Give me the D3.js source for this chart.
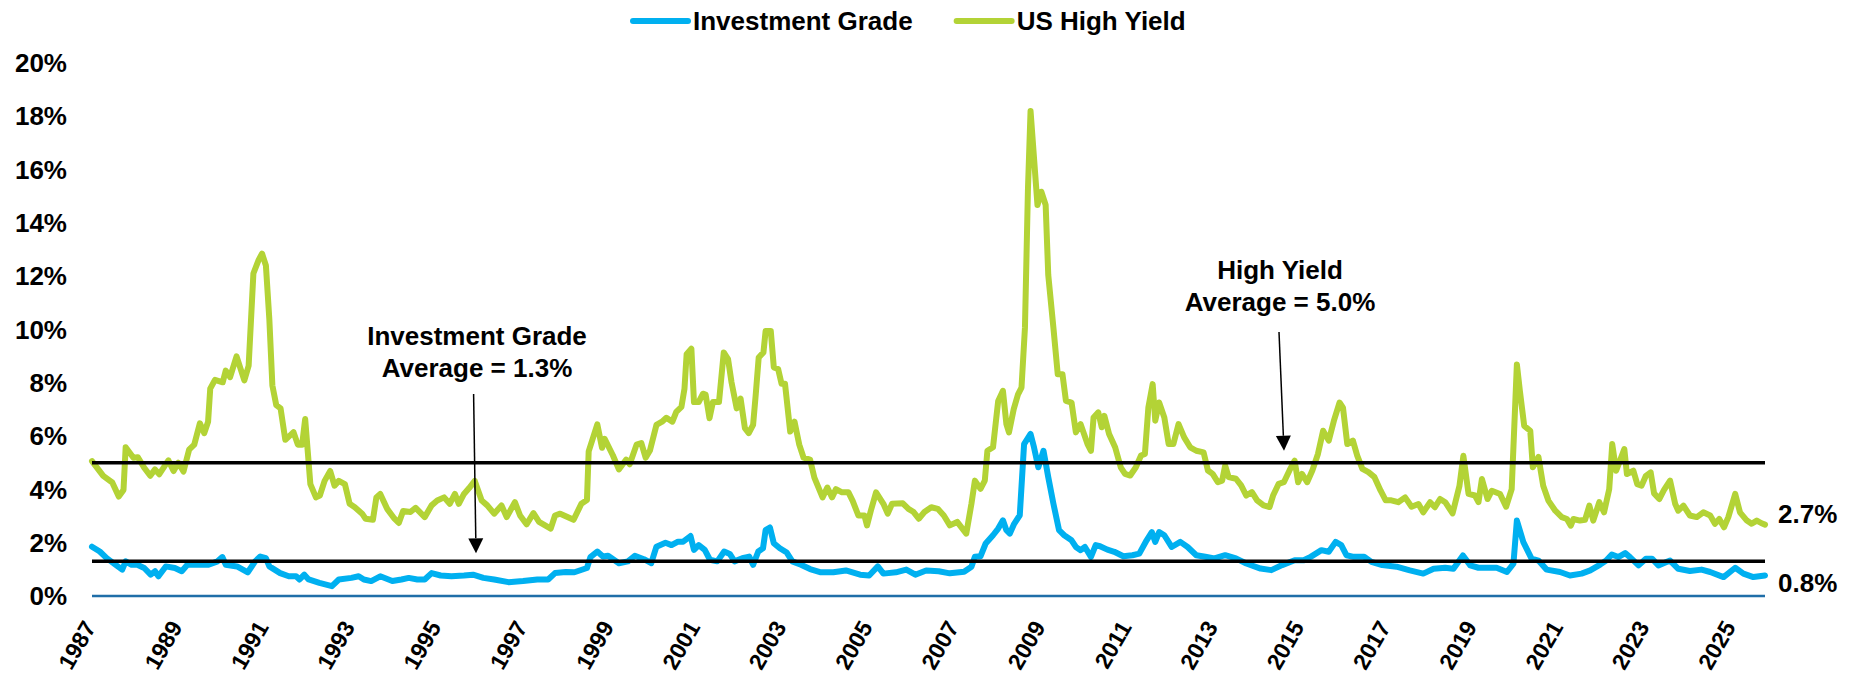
<!DOCTYPE html>
<html>
<head>
<meta charset="utf-8">
<script src="https://cdn.jsdelivr.net/npm/d3@7"></script>
<style>
  body { margin: 0; background: #fff; }
  svg text { font-family: "Liberation Sans", Arial, sans-serif; font-weight: bold; fill: #000; }
</style>
</head>
<body>
<svg id="chart" width="1858" height="673"></svg>
<script>
// Spreads in %, keyed by decimal year
const yearLabels = [1987, 1989, 1991, 1993, 1995, 1997, 1999, 2001, 2003, 2005, 2007,
  2009, 2011, 2013, 2015, 2017, 2019, 2021, 2023, 2025];
const yTicks = [0, 2, 4, 6, 8, 10, 12, 14, 16, 18, 20];
const seriesNames = ['Investment Grade', 'US High Yield'];
const seriesColors = ['#00b0f0', '#b3d336'];
const igAverage = 1.3;
const hyAverage = 5.0;

const igSpread = [
  [1987.18,1.85],[1987.36,1.67],[1987.52,1.42],[1987.73,1.17],[1987.88,0.99],[1987.96,1.3],
  [1988.10,1.17],[1988.23,1.17],[1988.39,1.05],[1988.54,0.8],[1988.64,0.93],[1988.72,0.74],
  [1988.89,1.11],[1989.10,1.05],[1989.26,0.93],[1989.39,1.17],[1989.63,1.17],[1989.88,1.17],
  [1990.09,1.3],[1990.20,1.46],[1990.28,1.17],[1990.54,1.11],[1990.79,0.89],[1990.96,1.3],
  [1991.08,1.48],[1991.21,1.42],[1991.29,1.11],[1991.54,0.86],[1991.74,0.74],[1991.91,0.74],
  [1991.99,0.62],[1992.10,0.8],[1992.20,0.62],[1992.45,0.49],[1992.74,0.37],[1992.90,0.62],
  [1993.19,0.68],[1993.36,0.74],[1993.48,0.62],[1993.65,0.56],[1993.86,0.74],[1994.14,0.56],
  [1994.35,0.62],[1994.52,0.68],[1994.72,0.62],[1994.89,0.62],[1995.05,0.86],[1995.26,0.77],
  [1995.51,0.74],[1995.80,0.77],[1996.01,0.8],[1996.25,0.68],[1996.50,0.62],[1996.83,0.52],
  [1997.17,0.56],[1997.50,0.62],[1997.75,0.62],[1997.91,0.86],[1998.16,0.9],[1998.36,0.89],
  [1998.65,1.05],[1998.73,1.46],[1998.89,1.67],[1999.02,1.48],[1999.14,1.51],[1999.39,1.23],
  [1999.60,1.3],[1999.76,1.51],[1999.97,1.38],[2000.14,1.23],[2000.26,1.85],[2000.47,2.0],
  [2000.61,1.91],[2000.76,2.04],[2000.88,2.04],[2001.05,2.25],[2001.13,1.73],[2001.24,1.91],
  [2001.38,1.73],[2001.50,1.36],[2001.67,1.3],[2001.83,1.67],[2001.96,1.58],[2002.07,1.3],
  [2002.25,1.42],[2002.41,1.48],[2002.50,1.17],[2002.62,1.67],[2002.73,1.79],[2002.79,2.47],
  [2002.89,2.57],[2002.98,1.98],[2003.12,1.79],[2003.28,1.63],[2003.41,1.3],[2003.61,1.17],
  [2003.82,1.01],[2004.07,0.89],[2004.36,0.89],[2004.65,0.96],[2004.98,0.8],[2005.19,0.77],
  [2005.39,1.11],[2005.52,0.84],[2005.81,0.89],[2006.05,0.99],[2006.26,0.8],[2006.51,0.96],
  [2006.80,0.93],[2007.06,0.85],[2007.39,0.91],[2007.56,1.1],[2007.64,1.47],[2007.77,1.49],
  [2007.89,1.97],[2008.06,2.28],[2008.18,2.53],[2008.29,2.84],[2008.37,2.47],[2008.45,2.34],
  [2008.55,2.71],[2008.68,3.03],[2008.78,5.7],[2008.93,6.08],[2009.01,5.58],[2009.11,4.83],
  [2009.23,5.45],[2009.34,4.46],[2009.46,3.46],[2009.59,2.47],[2009.71,2.28],[2009.88,2.09],
  [2009.98,1.84],[2010.09,1.72],[2010.19,1.84],[2010.33,1.47],[2010.44,1.91],[2010.54,1.87],
  [2010.71,1.74],[2010.87,1.66],[2011.08,1.49],[2011.29,1.53],[2011.45,1.59],[2011.62,2.09],
  [2011.74,2.4],[2011.82,2.03],[2011.91,2.4],[2012.03,2.28],[2012.20,1.84],[2012.40,2.03],
  [2012.57,1.84],[2012.77,1.53],[2012.98,1.47],[2013.19,1.41],[2013.44,1.53],[2013.69,1.41],
  [2013.93,1.22],[2014.26,1.03],[2014.51,0.97],[2014.76,1.16],[2015.05,1.34],[2015.26,1.34],
  [2015.42,1.47],[2015.67,1.72],[2015.84,1.66],[2016.00,2.03],[2016.13,1.91],[2016.25,1.53],
  [2016.42,1.47],[2016.66,1.47],[2016.83,1.28],[2017.08,1.16],[2017.41,1.1],[2017.72,0.96],
  [2018.03,0.84],[2018.27,1.02],[2018.54,1.06],[2018.73,1.02],[2018.95,1.52],[2019.12,1.15],
  [2019.31,1.06],[2019.52,1.06],[2019.73,1.06],[2019.97,0.9],[2020.12,1.21],[2020.20,2.83],
  [2020.35,2.02],[2020.54,1.4],[2020.70,1.33],[2020.89,0.99],[2021.20,0.9],[2021.43,0.77],
  [2021.70,0.84],[2021.90,0.96],[2022.13,1.18],[2022.27,1.33],[2022.40,1.56],[2022.55,1.46],
  [2022.71,1.61],[2022.82,1.46],[2023.02,1.15],[2023.19,1.4],[2023.33,1.4],[2023.48,1.15],
  [2023.75,1.33],[2023.94,1.02],[2024.21,0.94],[2024.48,0.99],[2024.68,0.9],[2024.99,0.71],
  [2025.26,1.06],[2025.45,0.84],[2025.68,0.71],[2025.95,0.77]
];

const hySpread = [
  [1987.18,5.06],[1987.44,4.51],[1987.65,4.26],[1987.80,3.73],[1987.91,3.98],[1987.96,5.58],
  [1988.14,5.19],[1988.24,5.21],[1988.39,4.81],[1988.53,4.51],[1988.64,4.75],[1988.74,4.57],
  [1988.95,5.09],[1989.07,4.69],[1989.18,5.0],[1989.30,4.67],[1989.43,5.49],[1989.55,5.68],
  [1989.68,6.48],[1989.78,6.11],[1989.87,6.54],[1989.92,7.78],[1990.03,8.11],[1990.21,8.02],
  [1990.28,8.46],[1990.38,8.21],[1990.53,8.99],[1990.71,8.09],[1990.81,8.64],[1990.92,12.1],
  [1991.04,12.6],[1991.12,12.85],[1991.21,12.4],[1991.29,10.37],[1991.36,7.9],[1991.45,7.16],
  [1991.55,7.04],[1991.66,5.86],[1991.85,6.15],[1991.95,5.68],[1992.05,5.68],[1992.12,6.64],
  [1992.24,4.2],[1992.37,3.7],[1992.46,3.77],[1992.57,4.32],[1992.70,4.69],[1992.80,4.14],
  [1992.90,4.32],[1993.04,4.2],[1993.15,3.46],[1993.27,3.33],[1993.44,3.09],[1993.52,2.9],
  [1993.69,2.86],[1993.77,3.7],[1993.86,3.83],[1994.02,3.27],[1994.19,2.9],[1994.29,2.74],
  [1994.39,3.19],[1994.56,3.15],[1994.68,3.31],[1994.89,2.96],[1995.05,3.4],[1995.18,3.58],
  [1995.34,3.7],[1995.47,3.46],[1995.59,3.83],[1995.68,3.46],[1995.80,3.83],[1995.92,4.05],
  [1996.05,4.32],[1996.21,3.58],[1996.34,3.4],[1996.50,3.09],[1996.67,3.4],[1996.79,2.96],
  [1996.98,3.52],[1997.10,3.02],[1997.25,2.69],[1997.41,3.11],[1997.54,2.78],[1997.81,2.53],
  [1997.91,3.02],[1998.03,3.09],[1998.34,2.86],[1998.52,3.46],[1998.65,3.6],[1998.69,5.43],
  [1998.89,6.44],[1999.00,5.56],[1999.06,5.9],[1999.25,5.28],[1999.39,4.75],[1999.56,5.12],
  [1999.64,4.94],[1999.80,5.68],[1999.91,5.74],[2000.01,5.19],[2000.11,5.46],[2000.26,6.42],
  [2000.39,6.54],[2000.49,6.69],[2000.63,6.54],[2000.72,6.91],[2000.84,7.1],[2000.91,7.78],
  [2000.96,9.07],[2001.07,9.28],[2001.13,7.28],[2001.24,7.28],[2001.34,7.59],[2001.40,7.56],
  [2001.49,6.67],[2001.57,7.28],[2001.71,7.28],[2001.82,9.14],[2001.92,8.89],[2002.00,8.02],
  [2002.12,7.04],[2002.21,7.41],[2002.31,6.3],[2002.40,6.11],[2002.50,6.42],[2002.56,7.53],
  [2002.63,8.95],[2002.74,9.14],[2002.79,9.94],[2002.91,9.94],[2002.98,8.58],[2003.08,8.52],
  [2003.16,7.96],[2003.24,7.96],[2003.36,6.17],[2003.46,6.54],[2003.57,5.68],[2003.67,5.19],
  [2003.82,5.12],[2003.92,4.44],[2004.11,3.7],[2004.22,4.07],[2004.33,3.7],[2004.42,4.01],
  [2004.56,3.89],[2004.71,3.89],[2004.81,3.56],[2004.94,3.02],[2005.08,3.02],[2005.14,2.65],
  [2005.23,3.21],[2005.35,3.89],[2005.52,3.46],[2005.62,3.09],[2005.72,3.46],[2005.97,3.48],
  [2006.10,3.27],[2006.22,3.15],[2006.34,2.9],[2006.47,3.15],[2006.63,3.33],[2006.78,3.27],
  [2006.92,3.02],[2007.06,2.65],[2007.23,2.78],[2007.44,2.34],[2007.56,3.46],[2007.64,4.33],
  [2007.77,4.02],[2007.87,4.33],[2007.93,5.45],[2008.06,5.58],[2008.18,7.32],[2008.29,7.7],
  [2008.37,6.45],[2008.43,6.14],[2008.54,7.01],[2008.64,7.57],[2008.72,7.82],[2008.80,10.06],
  [2008.87,15.29],[2008.93,18.2],[2009.09,14.67],[2009.18,15.17],[2009.28,14.67],[2009.34,12.05],
  [2009.46,10.06],[2009.56,8.32],[2009.67,8.32],[2009.75,7.32],[2009.88,7.26],[2009.98,6.14],
  [2010.09,6.45],[2010.25,5.7],[2010.33,5.45],[2010.39,6.7],[2010.50,6.89],[2010.58,6.33],
  [2010.64,6.76],[2010.75,6.08],[2010.89,5.58],[2011.02,4.83],[2011.12,4.58],[2011.24,4.52],
  [2011.37,4.83],[2011.49,5.27],[2011.58,5.33],[2011.66,7.07],[2011.76,7.95],[2011.82,6.58],
  [2011.91,7.26],[2012.03,6.7],[2012.13,5.7],[2012.24,5.7],[2012.36,6.45],[2012.49,5.95],
  [2012.63,5.58],[2012.77,5.45],[2012.94,5.39],[2013.04,4.71],[2013.15,4.58],[2013.27,4.27],
  [2013.37,4.33],[2013.44,4.89],[2013.52,4.46],[2013.69,4.4],[2013.81,4.15],[2013.93,3.77],
  [2014.06,3.9],[2014.18,3.59],[2014.33,3.4],[2014.47,3.34],[2014.55,3.77],[2014.68,4.21],
  [2014.80,4.27],[2014.93,4.71],[2015.05,5.08],[2015.13,4.27],[2015.22,4.58],[2015.34,4.27],
  [2015.46,4.71],[2015.59,5.33],[2015.71,6.2],[2015.84,5.83],[2015.96,6.58],[2016.09,7.26],
  [2016.17,7.07],[2016.27,5.7],[2016.40,5.83],[2016.50,5.27],[2016.62,4.77],[2016.76,4.65],
  [2016.90,4.46],[2017.04,3.96],[2017.16,3.59],[2017.29,3.59],[2017.45,3.52],[2017.61,3.7],
  [2017.76,3.35],[2017.92,3.45],[2018.03,3.14],[2018.19,3.52],[2018.30,3.33],[2018.42,3.64],
  [2018.54,3.52],[2018.71,3.1],[2018.87,4.14],[2018.96,5.26],[2019.08,3.83],[2019.23,3.77],
  [2019.31,3.52],[2019.39,4.39],[2019.52,3.64],[2019.62,3.95],[2019.81,3.83],[2019.95,3.35],
  [2020.08,4.01],[2020.20,8.69],[2020.27,7.69],[2020.37,6.38],[2020.51,6.2],[2020.57,4.83],
  [2020.70,5.22],[2020.81,4.14],[2020.93,3.58],[2021.09,3.2],[2021.24,2.96],[2021.36,2.89],
  [2021.45,2.64],[2021.51,2.89],[2021.66,2.83],[2021.78,2.86],[2021.88,3.39],[2021.97,2.83],
  [2022.11,3.52],[2022.22,3.14],[2022.34,4.01],[2022.41,5.7],[2022.50,4.7],[2022.69,5.51],
  [2022.75,4.58],[2022.90,4.7],[2022.99,4.2],[2023.09,4.14],[2023.19,4.51],[2023.30,4.64],
  [2023.38,3.85],[2023.50,3.64],[2023.61,3.98],[2023.75,4.33],[2023.87,3.45],[2023.94,3.2],
  [2024.06,3.39],[2024.21,3.02],[2024.37,2.96],[2024.52,3.14],[2024.68,3.02],[2024.79,2.71],
  [2024.89,2.89],[2025.00,2.58],[2025.10,2.96],[2025.26,3.83],[2025.37,3.14],[2025.53,2.83],
  [2025.64,2.71],[2025.76,2.83],[2025.87,2.73],[2025.95,2.68]
];

class SpreadChart {

  constructor(_svg) {
    this.svg = d3.select(_svg);
    this.initVis();
    this.renderVis();
  }

  // Scales and layer groups
  initVis() {
    this.x = d3.scaleLinear()
      .domain([igSpread[0][0], igSpread[igSpread.length - 1][0]])
      .range([92, 1765]);
    this.y = d3.scaleLinear()
      .domain([0, 20])
      .range([596, 63]);

    this.line = d3.line()
      .x(d => this.x(d[0]))
      .y(d => this.y(d[1]));

    this.axisG = this.svg.append('g');
    this.seriesG = this.svg.append('g');
    this.refG = this.svg.append('g');
    this.labelG = this.svg.append('g');
  }

  renderVis() {
    const x = this.x, y = this.y;
    const [x0, x1] = x.range();

    // y tick labels, no gridlines
    this.axisG.selectAll('.y-label')
      .data(yTicks)
      .join('text')
      .attr('class', 'y-label')
      .attr('x', 67)
      .attr('y', d => y(d))
      .attr('dy', '0.35em')
      .attr('text-anchor', 'end')
      .style('font-size', '26px')
      .text(d => d + '%');

    // zero line
    this.axisG.append('line')
      .attr('x1', x0).attr('x2', x1)
      .attr('y1', y(0)).attr('y2', y(0))
      .attr('stroke', '#1f6ea8')
      .attr('stroke-width', 2.5);

    // rotated year labels
    this.axisG.selectAll('.x-label')
      .data(yearLabels)
      .join('text')
      .attr('class', 'x-label')
      .attr('text-anchor', 'end')
      .attr('transform', d => `translate(${x(d) + 12.5}, 627) rotate(-60)`)
      .style('font-size', '23px')
      .text(d => d);

    // series lines
    [hySpread, igSpread].forEach((data, i) => {
      this.seriesG.append('path')
        .datum(data)
        .attr('fill', 'none')
        .attr('stroke', seriesColors[1 - i])
        .attr('stroke-width', 6)
        .attr('stroke-linejoin', 'round')
        .attr('stroke-linecap', 'round')
        .attr('d', this.line);
    });

    // average lines
    this.refG.selectAll('.avg')
      .data([igAverage, hyAverage])
      .join('line')
      .attr('class', 'avg')
      .attr('x1', x0).attr('x2', x1)
      .attr('y1', d => y(d)).attr('y2', d => y(d))
      .attr('stroke', '#000')
      .attr('stroke-width', 3.5);

    // annotations with arrows
    const notes = [
      { lines: ['Investment Grade', `Average = ${igAverage.toFixed(1)}%`], cx: 477, ty: 336, from: [473.6, 394], to: [476, y(igAverage) - 8] },
      { lines: ['High Yield', `Average = ${hyAverage.toFixed(1)}%`], cx: 1280, ty: 270, from: [1279, 332], to: [1284, y(hyAverage) - 12] }
    ];
    notes.forEach(n => {
      n.lines.forEach((t, i) => {
        this.labelG.append('text')
          .attr('x', n.cx)
          .attr('y', n.ty + i * 32)
          .attr('dy', '0.35em')
          .attr('text-anchor', 'middle')
          .style('font-size', '26px')
          .text(t);
      });
      const ang = Math.atan2(n.to[1] - n.from[1], n.to[0] - n.from[0]);
      const hl = 15, hw = 7.5;
      const bx = n.to[0] - hl * Math.cos(ang), by = n.to[1] - hl * Math.sin(ang);
      this.labelG.append('line')
        .attr('x1', n.from[0]).attr('y1', n.from[1])
        .attr('x2', bx).attr('y2', by)
        .attr('stroke', '#000')
        .attr('stroke-width', 1.5);
      this.labelG.append('path')
        .attr('d', `M${n.to[0]},${n.to[1]}` +
          `L${bx - hw * Math.sin(ang)},${by + hw * Math.cos(ang)}` +
          `L${bx + hw * Math.sin(ang)},${by - hw * Math.cos(ang)}Z`)
        .attr('fill', '#000');
    });

    // last value labels
    const lastHy = hySpread[hySpread.length - 1][1];
    const lastIg = igSpread[igSpread.length - 1][1];
    [[lastHy, -11], [lastIg, 7.5]].forEach(([v, off]) => {
      this.labelG.append('text')
        .attr('x', x1 + 13)
        .attr('y', y(v) + off)
        .attr('dy', '0.35em')
        .style('font-size', '26px')
        .text(v.toFixed(1) + '%');
    });

    // legend
    const legend = this.svg.append('g');
    let lx = 633;
    seriesNames.forEach((name, i) => {
      legend.append('line')
        .attr('x1', lx).attr('x2', lx + 55)
        .attr('y1', 21).attr('y2', 21)
        .attr('stroke', seriesColors[i])
        .attr('stroke-width', 6)
        .attr('stroke-linecap', 'round');
      const t = legend.append('text')
        .attr('x', lx + 60)
        .attr('y', 21)
        .attr('dy', '0.35em')
        .style('font-size', '26px')
        .text(name);
      lx += 60 + t.node().getComputedTextLength() + 44;
    });
  }
}

new SpreadChart('#chart');
</script>
</body>
</html>
